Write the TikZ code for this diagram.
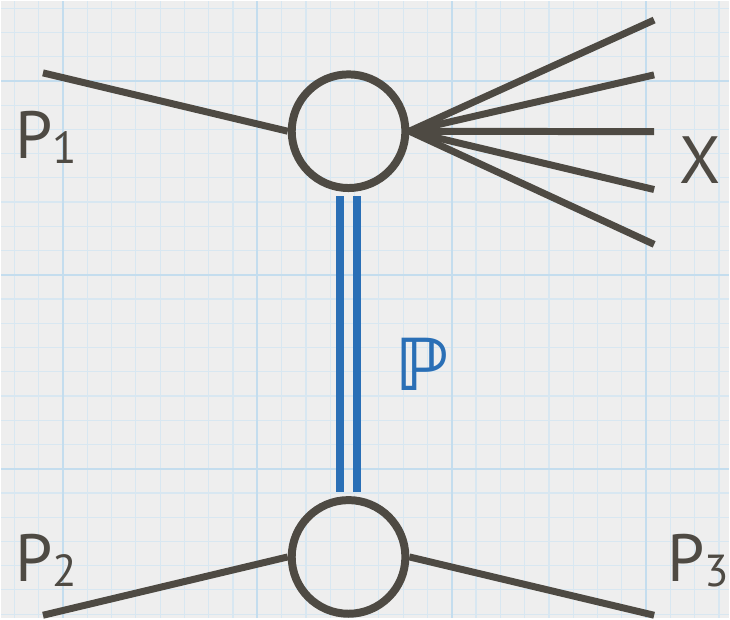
\documentclass[tikz,border=0pt]{standalone}
\usepackage{fontspec}
\setmainfont{PT Sans}
\newfontfamily\symfont{DejaVu Sans}
\definecolor{paper}{HTML}{EEEEEE}
\definecolor{gridminor}{HTML}{D8E7F1}
\definecolor{gridmajor}{HTML}{C4DDEE}
\definecolor{ink}{HTML}{4E4A43}
\definecolor{pblue}{HTML}{2A6FB6}
\pgfdeclarelayer{bg}
\pgfsetlayers{bg,main}
\tikzset{
  vertex/.style={circle, draw=ink, line width=8pt, minimum size=114pt, inner sep=0pt},
  leg/.style={draw=ink, line width=7pt},
  pom/.style={draw=pblue, line width=8pt, shorten <=4pt, shorten >=4pt},
  lbl/.style={text=ink, inner sep=0pt, anchor=base west, font=\fontsize{67}{67}\selectfont},
}
\newcommand{\subsz}[1]{{\fontsize{45}{45}\selectfont\raisebox{-5pt}{#1}}}
\begin{document}
\begin{tikzpicture}[x=1pt,y=-1pt]
\begin{pgfonlayer}{bg}
  \fill[paper] (0,0) rectangle (730,619);
  \foreach \i in {0,...,29} \draw[gridminor, line width=1.2pt] (13.25+\i*24.375,0) -- (13.25+\i*24.375,619);
  \foreach \j in {0,...,25} \draw[gridminor, line width=1.2pt] (0,7.1+\j*24.31) -- (730,7.1+\j*24.31);
  \foreach \i in {0,...,3} \draw[gridmajor, line width=2.2pt] (62+\i*195,0) -- (62+\i*195,619);
  \foreach \j in {0,...,2} \draw[gridmajor, line width=2.2pt] (0,80.3+\j*194.5) -- (730,80.3+\j*194.5);
\end{pgfonlayer}
\useasboundingbox (0,0) rectangle (730,619);

\node[vertex] (top) at (348.5,130.5) {};
\node[vertex] (bot) at (348.5,557.5) {};

\coordinate (p1in) at (42,72);
\coordinate (p2in) at (42,616);
\coordinate (p3out) at (655,616);
\coordinate (x1) at (655,19);
\coordinate (x2) at (655,74);
\coordinate (x3) at (655,131);
\coordinate (x4) at (655,189);
\coordinate (x5) at (655,244);

\draw[leg] (p1in) -- (top.west);
\draw[leg] (p2in) -- (bot.west);
\draw[leg] (bot.east) -- (p3out);
\foreach \k in {1,...,5} \draw[leg] (top.east) -- (x\k);

\draw[pom] ([xshift=-8.5pt]top.south) -- ([xshift=-8.5pt]bot.north);
\draw[pom] ([xshift=8.5pt]top.south) -- ([xshift=8.5pt]bot.north);

\node[lbl] (lp1) at (14,158) {P\subsz{1}};
\node[lbl] (lp2) at (14,582) {P\subsz{2}};
\node[lbl] (lp3) at (668,582) {P\subsz{3}};
\node[lbl] (lx) at (680,183) {X};
\node[inner sep=0pt, anchor=base west, text=pblue, font=\symfont\bfseries\fontsize{72}{72}\selectfont] (lpom) at (395,391) {ℙ};
\end{tikzpicture}
\end{document}
